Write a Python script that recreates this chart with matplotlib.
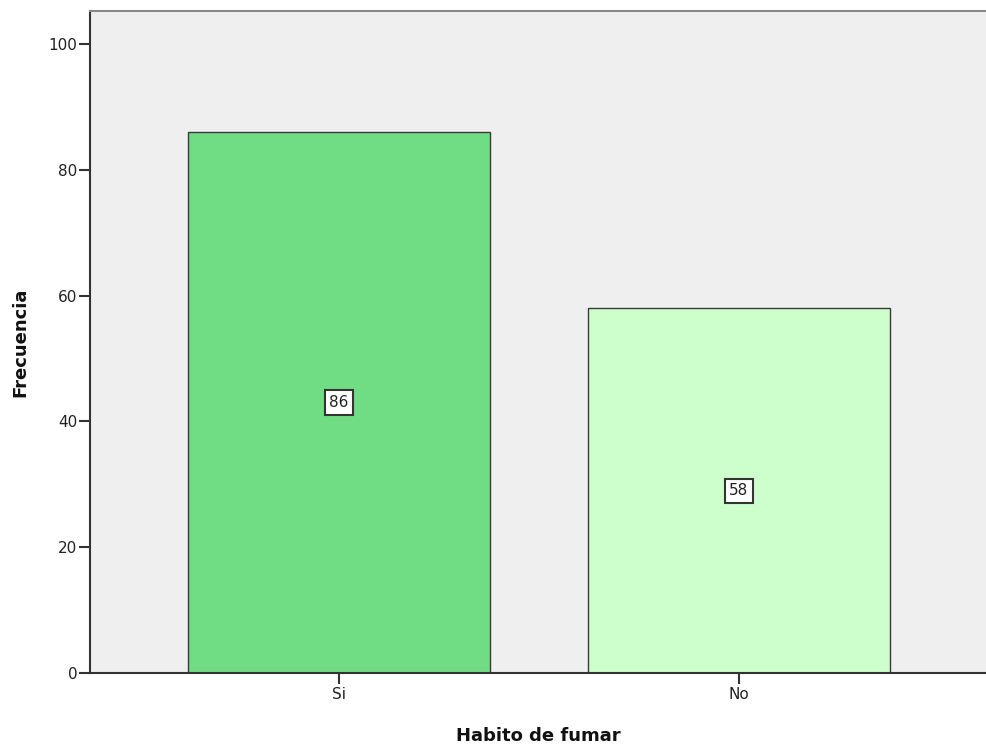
import matplotlib
matplotlib.use("Agg")
import matplotlib.pyplot as plt

categories = ["Si", "No"]
counts = [86, 58]
bar_colors = ["#70DC84", "#CCFFCC"]
y_ticks = [0, 20, 40, 60, 80, 100]

plt.rcParams["font.family"] = ["DejaVu Sans"]

W, H = 987, 746
fig = plt.figure(figsize=(W / 100, H / 100), dpi=100)
left, right, top, bottom = 90, 987, 10.7, 673
ax = fig.add_axes([left / W, (H - bottom) / H, (right - left) / W, (bottom - top) / H])
ax.set_facecolor("#EFEFEF")

x = list(range(len(categories)))
bars = ax.bar(x, counts, width=0.755, color=bar_colors, edgecolor="#3a3a3a", linewidth=1.0, zorder=2)

for xi, v in zip(x, counts):
    ax.text(xi, v / 2, str(v), ha="center", va="center", fontsize=11, color="#222222", zorder=3,
            bbox=dict(boxstyle="square,pad=0.3", facecolor="white", edgecolor="#333333", linewidth=1.5))

ax.set_xlim(-0.6225, 1.62)
ax.set_ylim(0, 105.3)
ax.set_xticks(x)
ax.set_xticklabels(categories)
ax.set_yticks(y_ticks)

ax.tick_params(axis="y", direction="out", length=8, width=1.5, color="#333333", labelsize=11, pad=1, labelcolor="#222222")
ax.tick_params(axis="x", direction="out", length=8, width=1.5, color="#333333", labelsize=11, pad=2, labelcolor="#222222")

for s in ["left", "bottom"]:
    ax.spines[s].set_color("#333333")
    ax.spines[s].set_linewidth(1.5)
ax.spines["top"].set_color("#888888")
ax.spines["top"].set_linewidth(1.5)
ax.spines["right"].set_visible(False)

ax.set_ylabel("Frecuencia", fontsize=13, fontweight="bold", labelpad=14, color="#111111")
ax.set_xlabel("Habito de fumar", fontsize=13, fontweight="bold", labelpad=18, color="#111111")

fig.savefig("out.png", dpi=100)
